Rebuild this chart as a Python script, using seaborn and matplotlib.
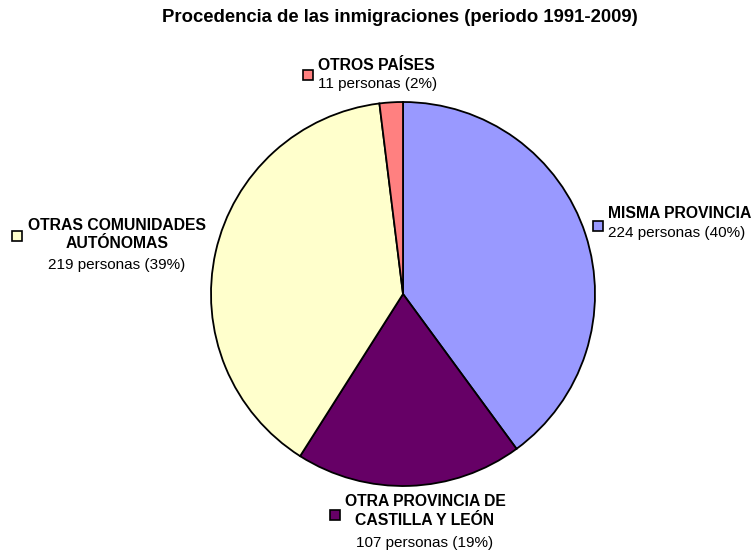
import matplotlib
matplotlib.use("Agg")
import matplotlib.pyplot as plt
import seaborn as sns

# Origin of immigrants, 1991-2009
categories = ["MISMA PROVINCIA", "OTRA PROVINCIA DE\nCASTILLA Y LEÓN",
              "OTRAS COMUNIDADES\nAUTÓNOMAS", "OTROS PAÍSES"]
personas = [224, 107, 219, 11]
porcentajes = [40, 19, 39, 2]
colores = ["#9999FF", "#660066", "#FFFFCC", "#FF8080"]

sns.set_theme(style="white")
plt.rcParams["font.family"] = ["Liberation Sans", "DejaVu Sans"]

W, H = 752, 552
fig = plt.figure(figsize=(W / 100, H / 100), dpi=100)
fig.patch.set_facecolor("white")

cx, cy, r = 403, 294, 192
ax = fig.add_axes([(cx - r) / W, (H - cy - r) / H, 2 * r / W, 2 * r / H])
ax.pie(personas, colors=colores, startangle=90, counterclock=False,
       wedgeprops=dict(edgecolor="black", linewidth=1.3))
ax.set_xlim(-1, 1)
ax.set_ylim(-1, 1)
ax.set_aspect("equal")
ax.axis("off")


def px(x, y):
    """Convert figure pixel position to pie data coordinates."""
    return (x - cx) / r, (cy - y) / r


# label block: (marker x, marker y, title x, title y, value y, alignment)
layout = [
    (598, 226, 608, 214, 233, "left"),
    (335, 515, 425, 511, 543, "center"),
    (17, 236, 117, 234.5, 265, "center"),
    (308, 75, 318, 65, 84, "left"),
]

for cat, n, pct, col, (mx, my, tx, ty, vy, ha) in zip(
        categories, personas, porcentajes, colores, layout):
    x, y = px(mx, my)
    ax.plot([x], [y], marker="s", markersize=7, markerfacecolor=col,
            markeredgecolor="black", markeredgewidth=1.2, clip_on=False)
    x, y = px(tx, ty)
    ax.text(x, y, cat, ha=ha, va="center", multialignment="center",
            fontsize=11.3, fontweight="bold", color="black",
            linespacing=1.3, clip_on=False)
    x, y = px(tx, vy)
    ax.text(x, y, f"{n} personas ({pct}%)", ha=ha, va="center",
            fontsize=11, color="black", clip_on=False)

fig.text(400 / W, 1 - 17 / H, "Procedencia de las inmigraciones (periodo 1991-2009)",
         ha="center", va="center", fontsize=13.3, fontweight="bold",
         color="black")

fig.savefig("out.png", dpi=100, facecolor="white")
